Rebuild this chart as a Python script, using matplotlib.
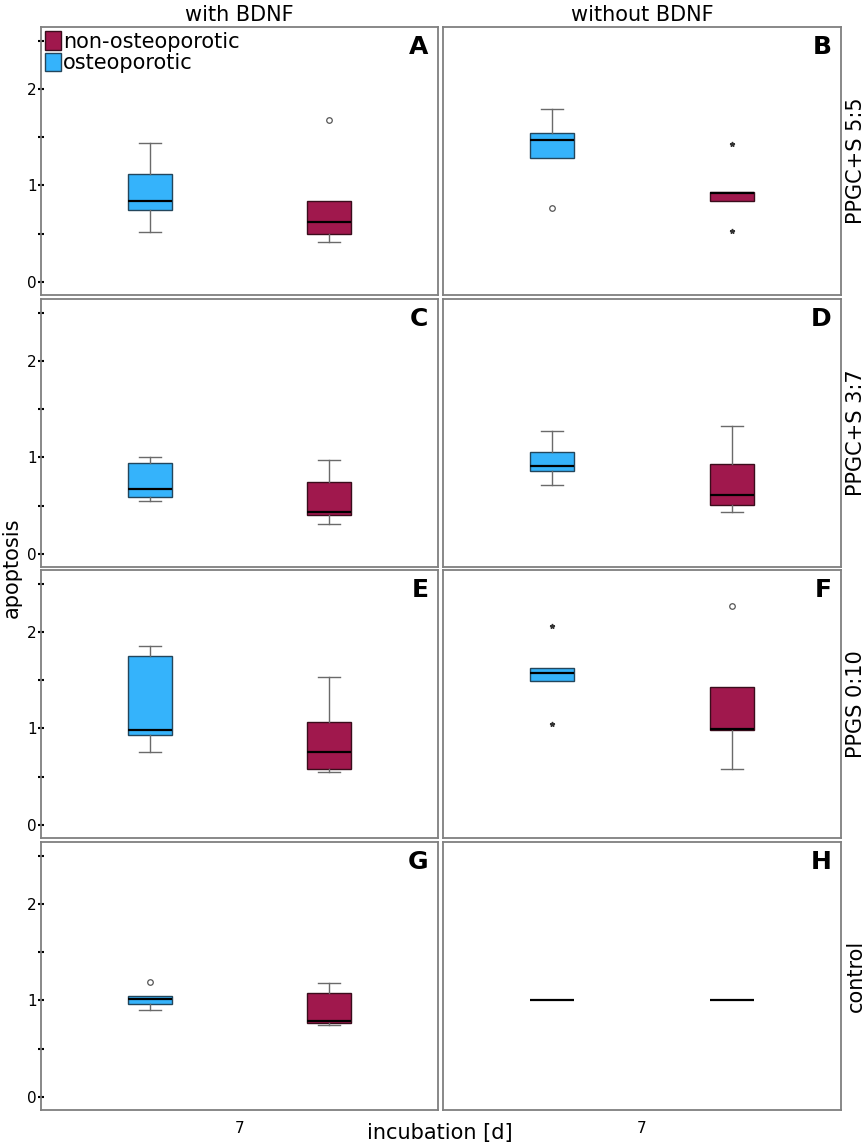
import numpy as np
import matplotlib.pyplot as plt
from matplotlib.patches import Patch

# panel order: A B / C D / E F / G H  (left = with BDNF, right = without BDNF)
panel_letters = ["A", "B", "C", "D", "E", "F", "G", "H"]
col_titles = ["with BDNF", "without BDNF"]
row_titles = ["PPGC+S 5:5", "PPGC+S 3:7", "PPGS 0:10", "control"]

# osteoporotic (blue) box statistics per panel
osteo_whislo = [0.52, 1.285, 0.55, 0.71, 0.756, 1.495, 0.896, 1.0]
osteo_q1 = [0.746, 1.285, 0.594, 0.856, 0.936, 1.495, 0.966, 1.0]
osteo_med = [0.839, 1.475, 0.674, 0.908, 0.984, 1.575, 1.010, 1.0]
osteo_q3 = [1.116, 1.547, 0.943, 1.053, 1.747, 1.623, 1.048, 1.0]
osteo_whishi = [1.444, 1.789, 1.008, 1.275, 1.858, 1.623, 1.048, 1.0]
osteo_circles = [[], [0.767], [], [], [], [], [1.19], []]
osteo_stars = [[], [], [], [], [], [2.062, 1.05], [], []]

# non-osteoporotic (red) box statistics per panel
nonosteo_whislo = [0.418, 0.843, 0.311, 0.438, 0.549, 0.576, 0.744, 1.0]
nonosteo_q1 = [0.497, 0.843, 0.40, 0.508, 0.583, 0.988, 0.768, 1.0]
nonosteo_med = [0.618, 0.925, 0.435, 0.607, 0.752, 0.995, 0.782, 1.0]
nonosteo_q3 = [0.839, 0.936, 0.746, 0.933, 1.063, 1.426, 1.073, 1.0]
nonosteo_whishi = [0.839, 0.936, 0.977, 1.33, 1.53, 1.426, 1.18, 1.0]
nonosteo_circles = [[1.682], [], [], [], [], [2.27], [], []]
nonosteo_stars = [[], [1.43, 0.532], [], [], [], [], [], []]

blue = "#35b3fb"
red = "#a0184d"
W, H = 865, 1148

fig = plt.figure(figsize=(W / 100, H / 100), dpi=100)

col_x = [41, 443]
col_w = [397, 398]
row_y = [27, 299, 570, 842]
row_h = 268

axes = []
for i in range(8):
    r, c = divmod(i, 2)
    ax = fig.add_axes([col_x[c] / W, 1 - (row_y[r] + row_h) / H,
                       col_w[c] / W, row_h / H])
    axes.append(ax)

    groups = [
        (0, blue, "#23465c", osteo_whislo, osteo_q1, osteo_med, osteo_q3,
         osteo_whishi, osteo_circles, osteo_stars),
        (1, red, "#3a0d1c", nonosteo_whislo, nonosteo_q1, nonosteo_med,
         nonosteo_q3, nonosteo_whishi, nonosteo_circles, nonosteo_stars),
    ]
    for pos, fc, ec, wlo, q1, med, q3, whi, circ, star in groups:
        stats = [{"whislo": wlo[i], "q1": q1[i], "med": med[i],
                  "q3": q3[i], "whishi": whi[i], "fliers": []}]
        bp = ax.bxp(stats, positions=[pos], widths=0.246, patch_artist=True,
                    showfliers=False, capwidths=0.123,
                    boxprops=dict(facecolor=fc, edgecolor=ec, linewidth=1.0),
                    whiskerprops=dict(color="#6a6a6a", linewidth=1.0),
                    capprops=dict(color="#6a6a6a", linewidth=1.0),
                    medianprops=dict(color="black", linewidth=1.6))
        # hide caps of zero-length whiskers
        if whi[i] == q3[i]:
            bp["caps"][1].set_visible(False)
        if wlo[i] == q1[i]:
            bp["caps"][0].set_visible(False)
        if q1[i] == q3[i]:
            bp["boxes"][0].set_visible(False)
            bp["caps"][0].set_visible(False)
            bp["caps"][1].set_visible(False)
        if circ[i]:
            ax.plot([pos] * len(circ[i]), circ[i], linestyle="none",
                    marker="o", ms=4, mfc="white", mec="#555555", mew=0.9)
        if star[i]:
            ax.plot([pos] * len(star[i]), star[i], linestyle="none",
                    marker="*", ms=3.5, color="#333333")

    ax.set_xlim(-0.609, 1.609)
    ax.set_ylim(-0.135, 2.64)
    for s in ax.spines.values():
        s.set_color("#7f7f7f")
        s.set_linewidth(1.3)

    if c == 0:
        ax.set_yticks([0, 1, 2])
        ax.set_yticks([0.5, 1.5, 2.5], minor=True)
        ax.tick_params(axis="y", which="both", direction="inout", length=4,
                       width=1.5, color="black", labelsize=11, pad=1)
    else:
        ax.set_yticks([])
    if r == 3:
        ax.set_xticks([0.5])
        ax.set_xticklabels(["7"])
        ax.tick_params(axis="x", length=0, labelsize=11, pad=8)
    else:
        ax.set_xticks([])

    ax.text(0.976, 0.972, panel_letters[i], transform=ax.transAxes,
            ha="right", va="top", fontsize=18, fontweight="bold")

    if r == 0:
        ax.set_title(col_titles[c], fontsize=15, pad=4)
    if c == 1:
        ax.text(1.037, 0.5, row_titles[r], transform=ax.transAxes,
                rotation=90, ha="center", va="center", fontsize=15)

handles = [Patch(facecolor=red, edgecolor="#3a0d1c", label="non-osteoporotic"),
           Patch(facecolor=blue, edgecolor="#23465c", label="osteoporotic")]
axes[0].legend(handles=handles, loc="upper left", frameon=False,
               fontsize=15, handlelength=0.75, handleheight=1.0,
               handletextpad=0.1, labelspacing=0.05, borderaxespad=0.1,
               borderpad=0.1)

fig.text(12 / W, 1 - 568 / H, "apoptosis", rotation=90, ha="center",
         va="center", fontsize=15)
fig.text(440 / W, 1 - 1133 / H, "incubation [d]", ha="center", va="center",
         fontsize=15)

fig.savefig("out.png", dpi=100)
